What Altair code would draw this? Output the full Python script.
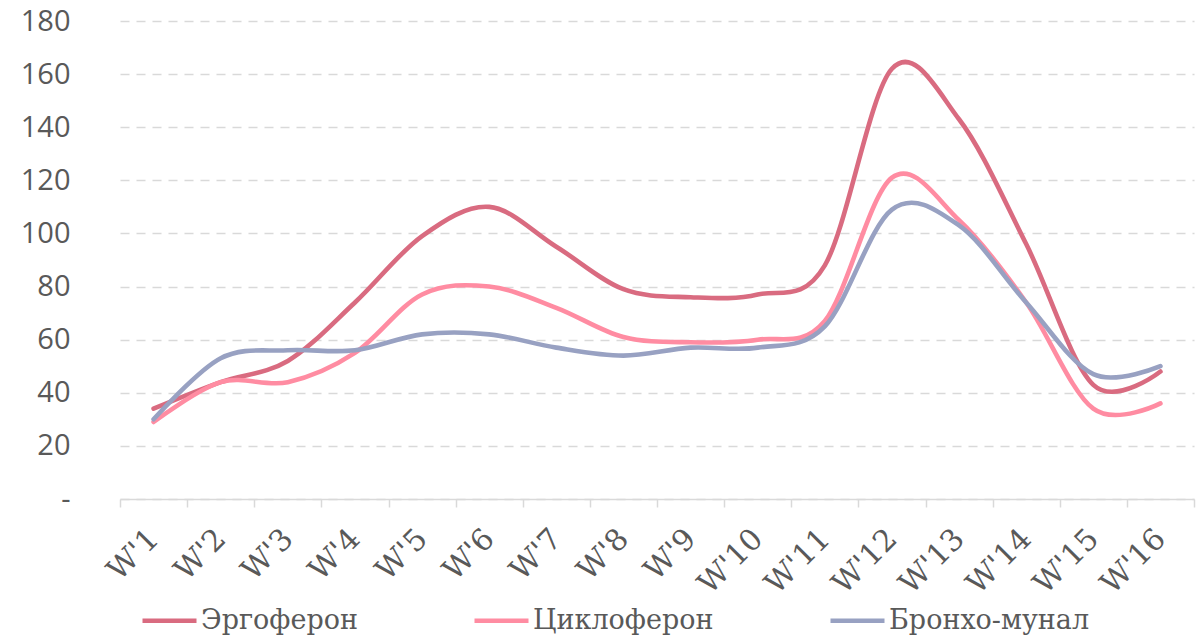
import altair as alt
import pandas as pd

weeks = ["W'1", "W'2", "W'3", "W'4", "W'5", "W'6", "W'7", "W'8",
         "W'9", "W'10", "W'11", "W'12", "W'13", "W'14", "W'15", "W'16"]
series_names = ["Эргоферон", "Циклоферон", "Бронхо-мунал"]
ergoferon = [34, 44, 52, 74, 99, 110, 95, 79, 76, 77, 88, 162, 143, 96, 43, 48]
cycloferon = [29, 44, 44, 55, 77, 80, 72, 61, 59, 60, 67, 121, 105, 74, 34, 36]
broncho = [30, 53, 56, 56, 62, 62, 57, 54, 57, 57, 65, 109, 103, 74, 47, 50]
colors = ["#d96b80", "#ff8ca2", "#98a1c2"]
y_ticks = [0, 20, 40, 60, 80, 100, 120, 140, 160, 180]

rows = []
for name, vals in zip(series_names, [ergoferon, cycloferon, broncho]):
    for w, v in zip(weeks, vals):
        rows.append({"week": w, "value": v, "series": name})
df = pd.DataFrame(rows)

chart = alt.Chart(df).mark_line(
    interpolate="cardinal", tension=0, strokeWidth=4.6, strokeCap="round"
).encode(
    x=alt.X("week:N", sort=weeks,
            scale=alt.Scale(paddingInner=0, paddingOuter=0),
            axis=alt.Axis(title=None, labelAngle=315, labelAlign="right",
                          labelBaseline="middle", labelFont="DejaVu Serif",
                          labelFontSize=30, labelColor="#595959",
                          labelPadding=27, labelOffset=0,
                          domainColor="#d9d9d9", domainWidth=1.5,
                          tickColor="#d9d9d9", tickWidth=1.5, tickSize=8,
                          tickBand="extent", grid=False)),
    y=alt.Y("value:Q", scale=alt.Scale(domain=[0, 180], nice=False),
            axis=alt.Axis(title=None, values=y_ticks, domain=False, ticks=False,
                          labelFont="Open Sans", labelFontSize=29,
                          labelColor="#595959", labelPadding=50,
                          labelExpr="datum.value == 0 ? '-\u00a0\u00a0' : datum.label",
                          gridColor="#d9d9d9", gridDash=[9, 7], gridWidth=1.5)),
    color=alt.Color("series:N", sort=series_names,
                    scale=alt.Scale(domain=series_names, range=colors),
                    legend=alt.Legend(title=None, orient="none", legendX=20, legendY=570,
                                      direction="horizontal", symbolType="stroke",
                                      symbolSize=2916, symbolStrokeWidth=4.6,
                                      labelFont="DejaVu Serif", labelFontSize=27,
                                      labelColor="#595959", columnPadding=107,
                                      labelOffset=2, labelLimit=500)),
).properties(
    width=1074, height=478,
    autosize=alt.AutoSizeParams(type="none"),
    padding={"left": 112, "top": 13, "right": 2, "bottom": 136},
).configure_view(stroke=None)

chart.save("out.html", embed_options={"renderer": "svg", "actions": False})
